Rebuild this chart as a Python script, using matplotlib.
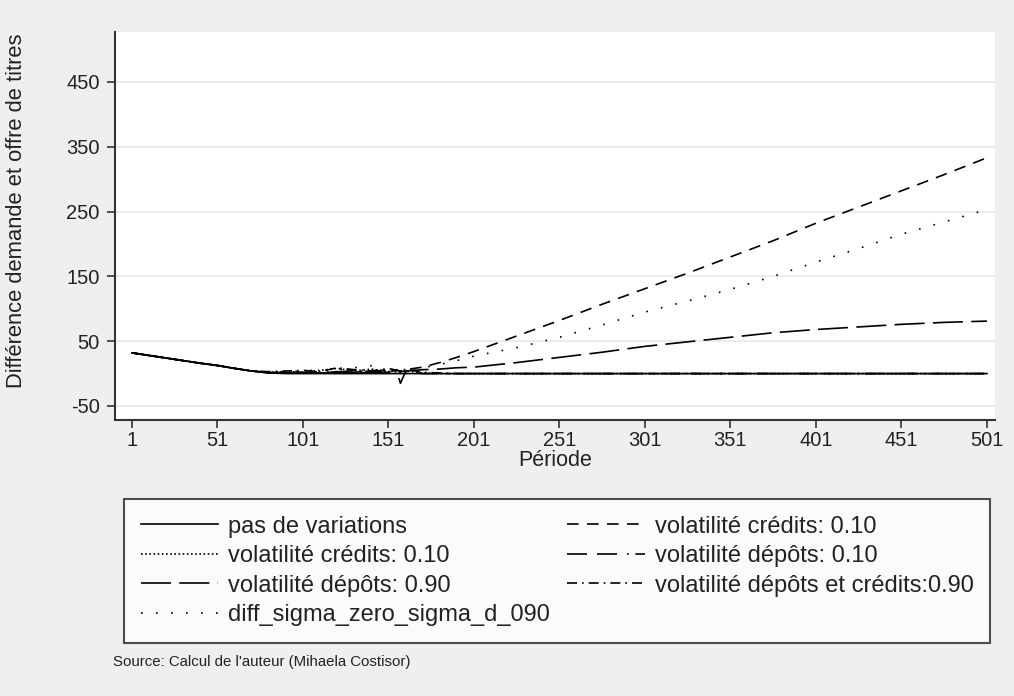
import numpy as np
import matplotlib
matplotlib.use("Agg")
import matplotlib.pyplot as plt

# ---- data ----
period = [1, 11, 21, 31, 41, 51, 61, 71, 81, 91, 101, 111, 121, 131, 141, 151,
          156, 158, 161, 171, 181, 191, 201, 226, 251, 276, 301, 326, 351, 376,
          401, 426, 451, 476, 501]

pas_de_variations = [32, 28, 24, 20, 16, 12.5, 8, 4, 1, 0, 0, 0, 0, 0, 0, 0,
                     0, 0, 0, 0, 0, 0, 0, 0, 0, 0, 0, 0, 0, 0,
                     0, 0, 0, 0, 0]
vol_credits_010_dash = [32, 28, 24, 20, 16, 12.5, 8, 4, 2, 1, 2, 1, 3, 2, 4, 3,
                        5, 4, 6, 10, 17, 25, 34, 58, 82, 107, 131, 155, 180, 205,
                        232, 257, 282, 307, 333]
vol_credits_010_dot = [32, 28, 24, 20, 16, 12.5, 8, 4, 2, 3, 2, 5, 8, 4, 7, 3,
                       6, 2, 4, 1, 0, 0, 0, 0, 0, 0, 0, 0, 0, 0,
                       0, 0, 0, 0, 0]
vol_depots_010 = [32, 28, 24, 20, 16, 12.5, 8, 4, 1, 2, 1, 3, 2, 5, 3, 6,
                  2, -15, 3, 0, 0, 0, 0, 0, 0, 0, 0, 0, 0, 0,
                  0, 0, 0, 0, 0]
vol_depots_090 = [32, 28, 24, 20, 16, 12.5, 8, 4, 1, 1, 2, 1, 2, 1, 2, 2,
                  3, 3, 4, 6, 7, 9, 10, 17, 25, 33, 42, 49, 56, 63,
                  68, 72, 76, 79, 81]
vol_depots_credits_090 = [32, 28, 24, 20, 16, 12.5, 8, 4, 3, 4, 5, 3, 9, 6, 4, 8,
                          5, 3, 7, 2, 1, 0, 0, 0, 0, 0, 0, 0, 0, 0,
                          0, 0, 0, 0, 0]
diff_sigma_zero_sigma_d_090 = [32, 28, 24, 20, 16, 12.5, 8, 4, 2, 3, 4, 6, 5, 9, 12, 2,
                               4, 3, 5, 9, 14, 20, 27, 40, 56, 75, 95, 112, 130, 150,
                               172, 193, 215, 234, 253]

labels = ["pas de variations", "volatilité crédits: 0.10", "volatilité crédits: 0.10",
          "volatilité dépôts: 0.10", "volatilité dépôts: 0.90",
          "volatilité dépôts et crédits:0.90", "diff_sigma_zero_sigma_d_090"]

yticks = [-50, 50, 150, 250, 350, 450]
xticks = [1, 51, 101, 151, 201, 251, 301, 351, 401, 451, 501]

# ---- figure ----
plt.rcParams['font.family'] = ['Liberation Sans', 'DejaVu Sans']
plt.rcParams['axes.unicode_minus'] = False
fig = plt.figure(figsize=(10.14, 6.96), dpi=100, facecolor='#efefef')
ax = fig.add_axes([115/1014, 1-420/696, 880/1014, 388/696])
ax.set_facecolor('white')

lw = 1.2
styles = {
    'solid': dict(linestyle='-'),
    'dash': dict(linestyle=(0, (7, 5))),
    'dot': dict(linestyle=(0, (1, 1.5))),
    'depots010': dict(linestyle=(0, (12, 6, 12, 6, 1, 4))),
    'depots090': dict(linestyle=(0, (18, 5))),
    'dashdot': dict(linestyle=(0, (6, 3, 1, 3))),
    'sparse': dict(linestyle=(0, (1, 8))),
}

series = [
    (pas_de_variations, 'solid', labels[0]),
    (vol_credits_010_dash, 'dash', labels[1]),
    (vol_credits_010_dot, 'dot', labels[2]),
    (vol_depots_010, 'depots010', labels[3]),
    (vol_depots_090, 'depots090', labels[4]),
    (vol_depots_credits_090, 'dashdot', labels[5]),
    (diff_sigma_zero_sigma_d_090, 'sparse', labels[6]),
]
handles = {}
for vals, st, lab in series:
    h, = ax.plot(period, vals, color='black', linewidth=lw, **styles[st])
    handles[st] = (h, lab)

for y in yticks:
    ax.axhline(y, color='#ececec', linewidth=1.5, zorder=0)

ax.set_xlim(-8.9, 505.7)
ax.set_ylim(-71.6, 527)
ax.set_xticks(xticks)
ax.set_yticks(yticks)
ax.tick_params(axis='both', direction='out', length=6, width=1.2, labelsize=14.5,
               color='#333333', labelcolor='#222222')
ax.tick_params(axis='y', pad=5)
ax.tick_params(axis='x', pad=2)
for s in ['top', 'right']:
    ax.spines[s].set_visible(False)
for s in ['left', 'bottom']:
    ax.spines[s].set_linewidth(1.5)
    ax.spines[s].set_color('#333333')

ax.set_xlabel("Période", fontsize=15.5, color='#222222', labelpad=0)
ax.set_ylabel("Différence demande et offre de titres", fontsize=15.8, color='#222222')
ax.yaxis.set_label_coords((27 - 115) / 880, (420 - 211) / 388)

order = ['solid', 'dot', 'depots090', 'sparse', 'dash', 'depots010', 'dashdot']
leg = fig.legend([handles[k][0] for k in order], [handles[k][1] for k in order],
                 ncol=2, loc='upper left',
                 bbox_to_anchor=(124/1014, 1-499/696, 866/1014, 0.0), mode='expand',
                 fontsize=17, frameon=True, fancybox=False, handlelength=3.3,
                 handletextpad=0.4, labelspacing=0.32, borderpad=0.7,
                 columnspacing=1.0, borderaxespad=0)
leg.get_frame().set_edgecolor('#222222')
leg.get_frame().set_linewidth(1.5)
leg.get_frame().set_facecolor('white')
for t in leg.get_texts():
    t.set_color('#222222')

fig.text(113/1014, 1-662/696, "Source: Calcul de l'auteur (Mihaela Costisor)",
         fontsize=10.8, color='#222222', va='center', ha='left')

fig.savefig("out.png", dpi=100, facecolor=fig.get_facecolor())
